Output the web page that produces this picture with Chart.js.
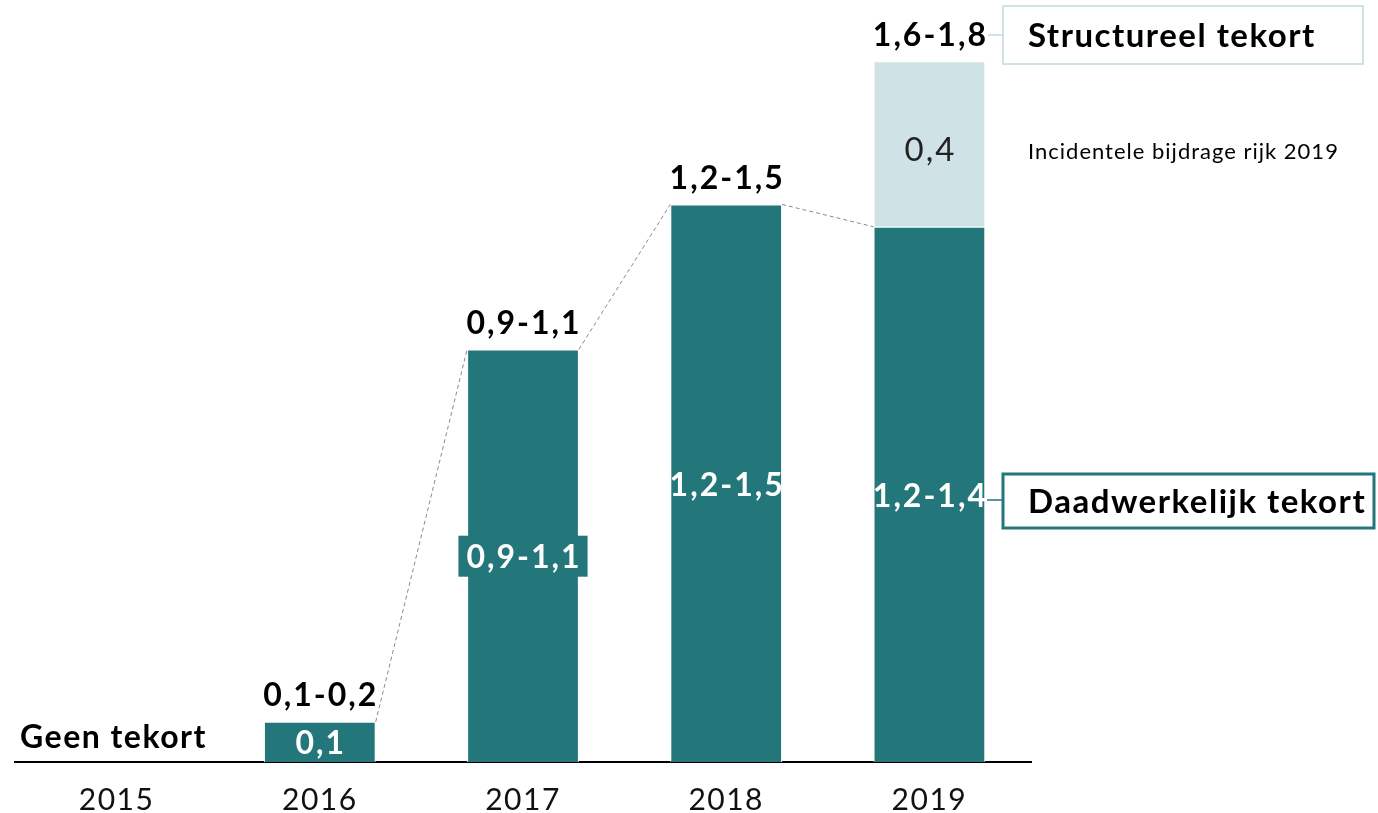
<!DOCTYPE html>
<html>
<head>
<meta charset="utf-8">
<script src="https://cdn.jsdelivr.net/npm/chart.js@4/dist/chart.umd.min.js"></script>
<style>
    html, body { margin: 0; padding: 0; background: #ffffff; }
    canvas { display: block; }
</style>
</head>
<body>
<canvas id="tekort-chart" width="1378" height="813"></canvas>
<script>
// data (mld euro)
const years = ['2015', '2016', '2017', '2018', '2019'];
const daadwerkelijk = [null, 0.108, 1.11, 1.5, 1.44];
const incidenteel = [null, null, null, null, 0.445];
const topLabels = ['', '0,1-0,2', '0,9-1,1', '1,2-1,5', '1,6-1,8'];
const innerLabels = ['', '0,1', '0,9-1,1', '1,2-1,5', '1,2-1,4'];
const incidenteelLabels = ['', '', '', '', '0,4'];

const TEAL = '#23777a';
const LIGHT = '#cfe2e6';
const FONT = "Lato, 'Open Sans', sans-serif";

// text with extra spacing, centered correctly (letterSpacing adds a trailing gap)
function spacedText(ctx, text, x, y, spacing) {
    ctx.letterSpacing = spacing + 'px';
    const shift = ctx.textAlign === 'center' ? spacing / 2 : 0;
    ctx.fillText(text, x + shift, y);
    ctx.letterSpacing = '0px';
}

// wider year ticks
const tickSpacingPlugin = {
    id: 'tickSpacingPlugin',
    beforeDraw(chart) {
        chart.ctx.letterSpacing = '1.5px';
    },
    beforeDatasetsDraw(chart) {
        chart.ctx.letterSpacing = '0px';
    }
};

// Labels, dashed connectors and the boxes on the right
const annotationsPlugin = {
    id: 'annotationsPlugin',
    afterDatasetsDraw(chart) {
        const ctx = chart.ctx;
        const dark = chart.getDatasetMeta(0).data;
        const light = chart.getDatasetMeta(1).data;

        ctx.save();

        // dashed lines between the bar tops
        ctx.strokeStyle = '#8a8a8a';
        ctx.lineWidth = 1;
        ctx.setLineDash([4, 3]);
        for (let i = 1; i < dark.length - 1; i++) {
            if (daadwerkelijk[i] === null) continue;
            const a = dark[i];
            const b = dark[i + 1];
            ctx.beginPath();
            ctx.moveTo(a.x + a.width / 2, a.y);
            ctx.lineTo(b.x - b.width / 2, b.y);
            ctx.stroke();
        }
        ctx.setLineDash([]);

        ctx.textAlign = 'center';
        ctx.textBaseline = 'middle';

        // labels inside the dark bars
        ctx.font = 'bold 32px ' + FONT;
        dark.forEach((bar, i) => {
            if (!innerLabels[i]) return;
            const cy = (bar.y + bar.base) / 2;
            if (i === 2) {
                // label with its own background box
                ctx.letterSpacing = '2px';
                const w = ctx.measureText(innerLabels[i]).width + 14;
                ctx.letterSpacing = '0px';
                ctx.fillStyle = TEAL;
                ctx.fillRect(bar.x - w / 2, cy - 20, w, 41);
            }
            ctx.fillStyle = '#ffffff';
            spacedText(ctx, innerLabels[i], bar.x, cy + 2, 2);
        });

        // label inside the light bar
        ctx.font = '33px ' + FONT;
        ctx.fillStyle = '#222222';
        light.forEach((bar, i) => {
            if (!incidenteelLabels[i]) return;
            spacedText(ctx, incidenteelLabels[i], bar.x, (bar.y + bar.base) / 2 + 6, 2);
        });

        // range labels above the bars
        ctx.font = 'bold 32px ' + FONT;
        ctx.fillStyle = '#000000';
        dark.forEach((bar, i) => {
            if (!topLabels[i]) return;
            const top = incidenteel[i] ? light[i].y : bar.y;
            spacedText(ctx, topLabels[i], bar.x, top - 26, 2);
        });

        // "Geen tekort" next to 2015
        ctx.textAlign = 'left';
        ctx.font = 'bold 32px ' + FONT;
        spacedText(ctx, 'Geen tekort', 20, 738, 1.5);

        // Structureel tekort box
        ctx.strokeStyle = LIGHT;
        ctx.lineWidth = 2;
        ctx.beginPath();
        ctx.moveTo(988, 35);
        ctx.lineTo(1003, 35);
        ctx.stroke();
        ctx.strokeRect(1003, 6, 360, 58);
        ctx.font = 'bold 33px ' + FONT;
        ctx.fillStyle = '#000000';
        spacedText(ctx, 'Structureel tekort', 1028, 36, 1.5);

        // Incidentele bijdrage
        ctx.font = '22px ' + FONT;
        spacedText(ctx, 'Incidentele bijdrage rijk 2019', 1028, 152, 1);

        // Daadwerkelijk tekort box
        ctx.strokeStyle = TEAL;
        ctx.lineWidth = 1.5;
        ctx.beginPath();
        ctx.moveTo(987, 500);
        ctx.lineTo(1002, 500);
        ctx.stroke();
        ctx.lineWidth = 3;
        ctx.strokeRect(1003, 474, 371, 54);
        ctx.font = 'bold 33px ' + FONT;
        spacedText(ctx, 'Daadwerkelijk tekort', 1028, 502, 1.5);

        ctx.restore();
    }
};

new Chart(document.getElementById('tekort-chart'), {
    type: 'bar',
    data: {
        labels: years,
        datasets: [
            {
                label: 'Daadwerkelijk tekort',
                data: daadwerkelijk,
                backgroundColor: TEAL,
                borderColor: '#ffffff',
                borderWidth: 1,
                barPercentage: 0.55,
                categoryPercentage: 1
            },
            {
                label: 'Incidentele bijdrage rijk 2019',
                data: incidenteel,
                backgroundColor: LIGHT,
                borderColor: '#ffffff',
                borderWidth: 1,
                barPercentage: 0.55,
                categoryPercentage: 1
            }
        ]
    },
    options: {
        responsive: false,
        animation: false,
        layout: {
            padding: {left: 15, right: 347, top: 0, bottom: 0}
        },
        plugins: {
            legend: {display: false},
            tooltip: {enabled: false}
        },
        scales: {
            x: {
                stacked: true,
                grid: {display: false, drawTicks: false},
                border: {display: true, color: '#000000', width: 2},
                ticks: {
                    padding: 20,
                    color: '#111111',
                    font: {family: FONT, size: 30}
                },
                afterFit(scale) {
                    scale.height = 51;
                }
            },
            y: {
                stacked: true,
                display: false,
                min: 0,
                max: 2.05
            }
        }
    },
    plugins: [tickSpacingPlugin, annotationsPlugin]
});
</script>
</body>
</html>
